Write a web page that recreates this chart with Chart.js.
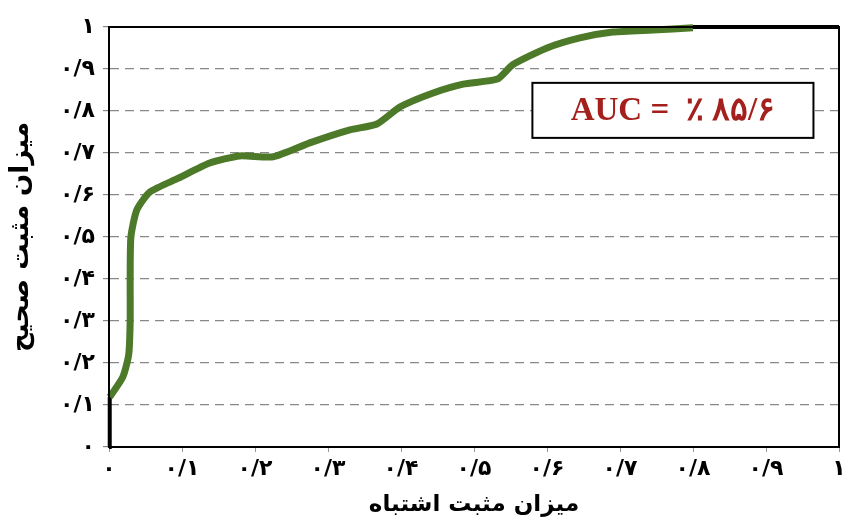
<!DOCTYPE html>
<html>
<head>
<meta charset="utf-8">
<script src="https://cdn.jsdelivr.net/npm/chart.js@4/dist/chart.umd.min.js"></script>
<style>
  html, body { margin: 0; padding: 0; background: #fff; }
  #wrap { width: 850px; height: 527px; }
</style>
</head>
<body>
<div id="wrap"><canvas id="rocChart"></canvas></div>
<script>
// داده‌های منحنی ROC (خوانده شده از تصویر)
const fpr = [0.001, 0.019, 0.027, 0.029, 0.029, 0.030, 0.038, 0.056, 0.095, 0.138, 0.179, 0.225,
             0.275, 0.330, 0.367, 0.399, 0.444, 0.485, 0.532, 0.553, 0.600, 0.645, 0.690, 0.745, 0.800];
const tpr = [0.119, 0.167, 0.220, 0.300, 0.400, 0.500, 0.564, 0.607, 0.640, 0.676, 0.693, 0.691,
             0.724, 0.755, 0.769, 0.810, 0.843, 0.864, 0.876, 0.910, 0.950, 0.974, 0.988, 0.993, 0.998];
// تکه‌های سیاه ابتدا و انتهای منحنی (null = فاصله)
const blackX = [0, 0.001, 0.4, 0.79, 1];
const blackY = [0, 0.119, null, 1, 1];

const tickValues = [0, 0.1, 0.2, 0.3, 0.4, 0.5, 0.6, 0.7, 0.8, 0.9, 1];
const tickLabels = ['۰', '۰/۱', '۰/۲', '۰/۳', '۰/۴', '۰/۵', '۰/۶', '۰/۷', '۰/۸', '۰/۹', '۱'];
const xTitle = 'میزان مثبت اشتباه';
const yTitle = 'میزان مثبت صحیح';
const aucText = 'AUC =  ٪ ۸۵/۶';

const faFont = '"DejaVu Sans", sans-serif';

function labelFor(v) {
    const i = tickValues.findIndex(t => Math.abs(t - v) < 1e-6);
    return i >= 0 ? tickLabels[i] : '';
}

// قاب دور ناحیه نمودار و جعبه AUC
const framePlugin = {
    id: 'frame',
    afterDatasetsDraw(chart) {
        const { ctx, chartArea: a, scales } = chart;
        ctx.save();
        ctx.strokeStyle = '#000';
        ctx.lineWidth = 2;
        ctx.strokeRect(a.left, a.top, a.right - a.left, a.bottom - a.top);

        const x1 = scales.x.getPixelForValue(0.58), x2 = scales.x.getPixelForValue(0.965);
        const y1 = scales.y.getPixelForValue(0.867), y2 = scales.y.getPixelForValue(0.736);
        ctx.fillStyle = '#fff';
        ctx.fillRect(x1, y1, x2 - x1, y2 - y1);
        ctx.strokeRect(x1, y1, x2 - x1, y2 - y1);
        ctx.fillStyle = '#a3201d';
        ctx.font = 'bold 33px "Liberation Serif", "DejaVu Serif", serif';
        ctx.textAlign = 'center';
        ctx.textBaseline = 'middle';
        ctx.fillText(aucText, (x1 + x2) / 2, (y1 + y2) / 2 + 1);
        ctx.restore();
    }
};

new Chart(document.getElementById('rocChart'), {
    type: 'line',
    data: {
        datasets: [{
            data: fpr.map((x, i) => ({ x: x, y: tpr[i] })),
            borderColor: '#4c7a28',
            borderWidth: 7,
            pointRadius: 0,
            tension: 0.2,
            clip: 6,
            fill: false
        }, {
            data: blackX.map((x, i) => ({ x: x, y: blackY[i] })),
            borderColor: '#000',
            borderWidth: 4,
            pointRadius: 0,
            spanGaps: false,
            clip: 6,
            fill: false
        }]
    },
    options: {
        responsive: true,
        maintainAspectRatio: false,
        animation: false,
        layout: { padding: { top: 27, right: 11, left: 6, bottom: 0 } },
        plugins: {
            legend: { display: false },
            tooltip: { enabled: false }
        },
        scales: {
            x: {
                type: 'linear',
                min: 0,
                max: 1,
                afterBuildTicks: s => { s.ticks = tickValues.map(v => ({ value: v })); },
                afterFit: s => { s.height = 80; },
                grid: { drawOnChartArea: false, tickLength: 5, color: '#999' },
                border: { color: '#000', width: 2 },
                ticks: {
                    color: '#000',
                    padding: 4,
                    font: { family: faFont, size: 22, weight: 'bold' },
                    callback: v => labelFor(v)
                },
                title: {
                    display: true,
                    text: xTitle,
                    color: '#000',
                    padding: { top: 2, bottom: 8 },
                    font: { family: faFont, size: 23, weight: 'bold' }
                }
            },
            y: {
                type: 'linear',
                min: 0,
                max: 1,
                afterBuildTicks: s => { s.ticks = tickValues.map(v => ({ value: v })); },
                afterFit: s => { s.width = 103; },
                grid: { color: '#888', lineWidth: 1.2, tickLength: 6 },
                border: { color: '#000', width: 2, dash: [9, 6] },
                ticks: {
                    color: '#000',
                    padding: 8,
                    font: { family: faFont, size: 22, weight: 'bold' },
                    callback: v => labelFor(v)
                },
                title: {
                    display: true,
                    text: yTitle,
                    color: '#000',
                    padding: { top: 0, bottom: 2 },
                    font: { family: faFont, size: 26, weight: 'bold' }
                }
            }
        }
    },
    plugins: [framePlugin]
});
</script>
</body>
</html>
